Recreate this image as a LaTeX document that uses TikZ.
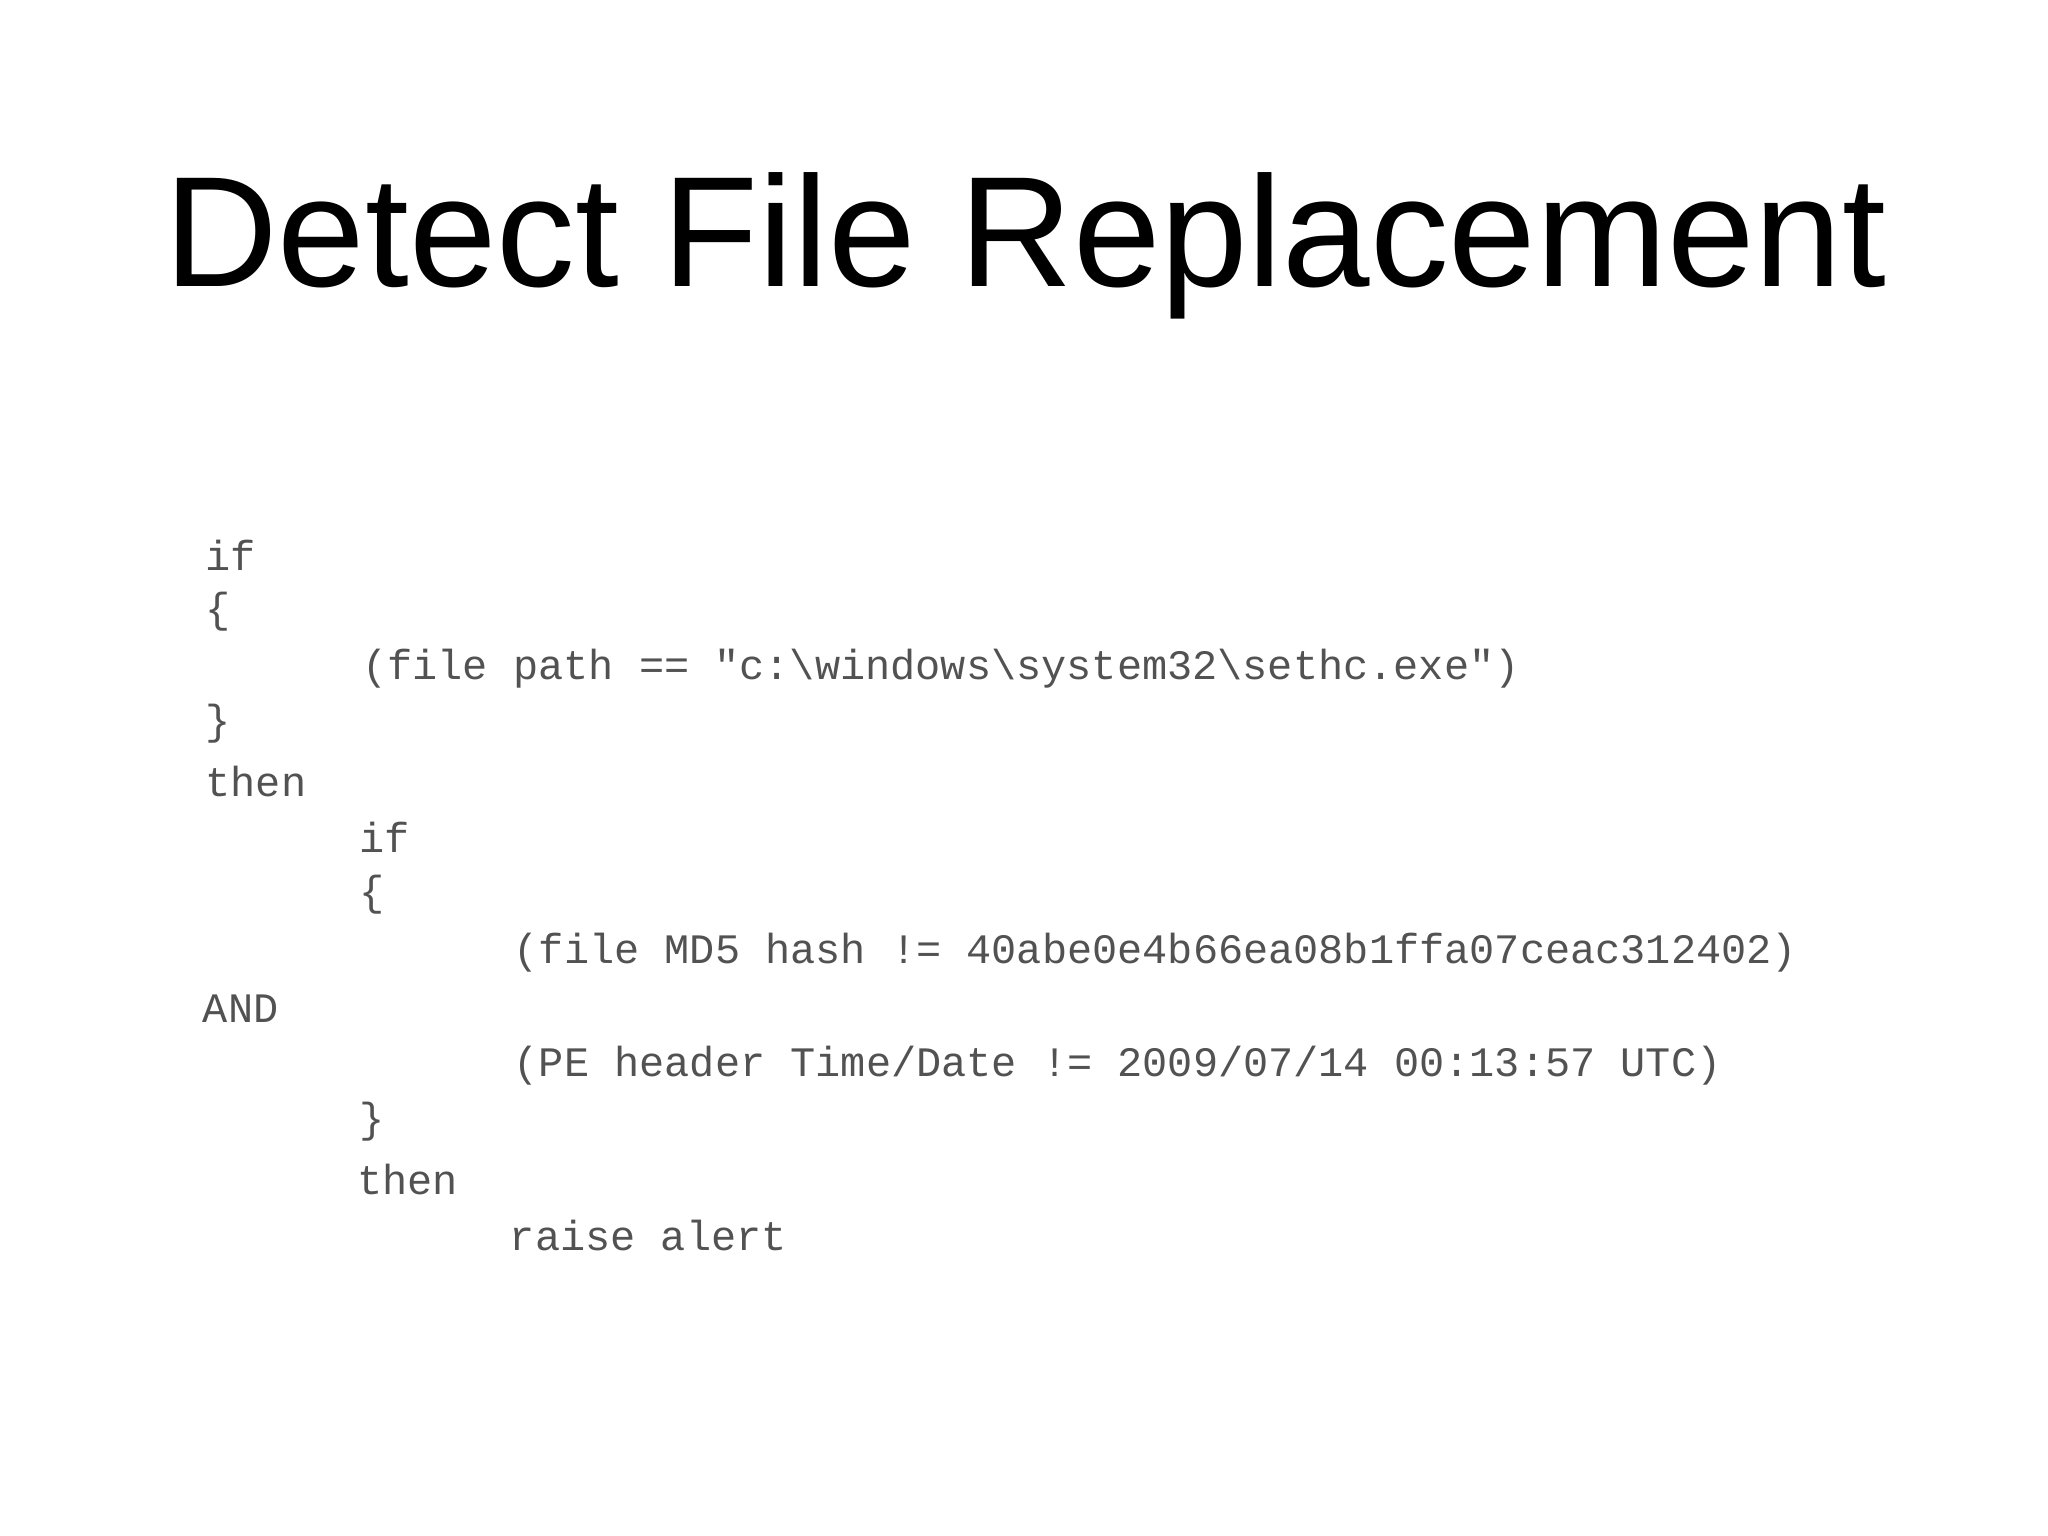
\documentclass[tikz,border=0pt]{standalone}
\usepackage{fontspec}
\setmainfont{Liberation Sans}
\newfontfamily\codefont{Liberation Mono}
\begin{document}
\begin{tikzpicture}[x=0.5pt,y=-0.5pt,
  code/.style={anchor=west,inner sep=0pt,font=\codefont\fontsize{16.05pt}{18pt}\selectfont,text=black!68}]
\useasboundingbox (0,0) rectangle (1568,1176);
\fill[white] (0,0) rectangle (1568,1176);
\node[font=\fontsize{60.2pt}{66pt}\selectfont] (title) at (785,188) {Detect File Replacement};
\node[code] (l1) at (157,425) {if};
\node[code] (l2) at (157,468) {\{};
\node[code] (l3) at (277,512) {(file path == "c:\textbackslash windows\textbackslash system32\textbackslash sethc.exe")};
\node[code] (l4) at (157,554) {\}};
\node[code] (l5) at (157,598) {then};
\node[code] (l6) at (275,641) {if};
\node[code] (l7) at (275,685) {\{};
\node[code] (l8) at (393,729) {(file MD5 hash != 40abe0e4b66ea08b1ffa07ceac312402)};
\node[code] (l9) at (155,772) {AND};
\node[code] (l10) at (393,816) {(PE header Time/Date != 2009/07/14 00:13:57 UTC)};
\node[code] (l11) at (275,859) {\}};
\node[code] (l12) at (273,903) {then};
\node[code] (l13) at (390,946) {raise alert};
\end{tikzpicture}
\end{document}
